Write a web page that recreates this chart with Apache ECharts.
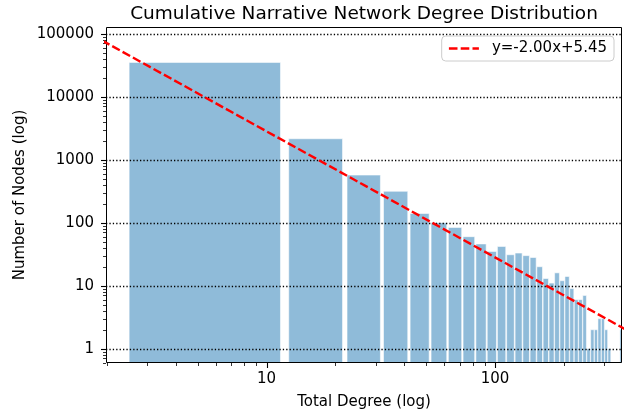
<!DOCTYPE html>
<html><head><meta charset="utf-8">
<script src="https://cdn.jsdelivr.net/npm/echarts@6/dist/echarts.min.js"></script>
<style>html,body{margin:0;padding:0;background:#fff}#c{width:626px;height:415px}</style>
</head><body><div id="c"></div>
<script>
// ---- data ----
const degreeBins = [7,17,27,37,47,57,67,77,87,97,107,117,127,137,147,157,167,177,187,197,207,217,227,237,247,257,267,277,287,297,307,317,327,337,347,357];
const nodeCounts = [35000,2150,570,315,140,100,84,60,46,35,42,31,33,30,28,20,13,11,16,12,14,9,6,6,7,1,2,2,3,3,2,1,0,0,0,2];
const fitSlope = -2.00;
const fitIntercept = 5.45;
const fitLabel = 'y=-2.00x+5.45';
const xMajorTicks = [10, 100];
const xMinorTicks = [2,3,4,5,6,7,8,9,20,30,40,50,60,70,80,90,200,300];
const yMajorTicks = [1,10,100,1000,10000,100000];
const yMinorTicks = [0.6,0.7,0.8,0.9,2,3,4,5,6,7,8,9,20,30,40,50,60,70,80,90,200,300,400,500,600,700,800,900,2000,3000,4000,5000,6000,7000,8000,9000,20000,30000,40000,50000,60000,70000,80000,90000];
const titleText = 'Cumulative Narrative Network Degree Distribution';
const xName = 'Total Degree (log)';
const yName = 'Number of Nodes (log)';

// ---- chart ----
const X_MIN = 1.98, X_MAX = 360, Y_MIN = 0.593, Y_MAX = 127700;
const BAR_HALF = 4.5;
const FONT = 'DejaVu Sans';

const barData = [];
degreeBins.forEach((d, i) => { if (nodeCounts[i] > 0) barData.push([d, nodeCounts[i]]); });

const fitX = [1.9, 400];
const fitData = fitX.map(x => [x, Math.pow(10, fitSlope * Math.log10(x) + fitIntercept)]);

const deco = [];
xMajorTicks.forEach(v => deco.push([v, 1, 0]));
xMinorTicks.forEach(v => deco.push([v, 1, 1]));
yMajorTicks.forEach(v => deco.push([10, v, 2]));
yMinorTicks.forEach(v => deco.push([10, v, 3]));
yMajorTicks.forEach(v => deco.push([10, v, 4]));
deco.push([10, 1, 5]);

const chart = echarts.init(document.getElementById('c'), null, {renderer: 'canvas'});
chart.setOption({
  animation: false,
  backgroundColor: '#fff',
  grid: {left: 106, right: 4, top: 27, bottom: 52, outerBoundsMode: 'none', containLabel: false},
  xAxis: {
    type: 'log', logBase: 10, min: X_MIN, max: X_MAX,
    axisLine: {show: false}, axisTick: {show: false}, splitLine: {show: false}, minorTick: {show: false},
    axisLabel: {show: true, showMinLabel: false, showMaxLabel: false, margin: 9, color: '#000', fontSize: 15, fontFamily: FONT,
      formatter: v => String(Math.round(v))}
  },
  yAxis: {
    type: 'log', logBase: 10, min: Y_MIN, max: Y_MAX,
    axisLine: {show: false}, axisTick: {show: false}, splitLine: {show: false}, minorTick: {show: false},
    axisLabel: {show: true, showMinLabel: false, showMaxLabel: false, margin: 12, color: '#000', fontSize: 15, fontFamily: FONT,
      formatter: v => String(Math.round(v))}
  },
  legend: {
    show: true, right: 12, top: 36, padding: [5, 7, 5, 6],
    itemWidth: 30, itemHeight: 14,
    itemStyle: {opacity: 0},
    lineStyle: {color: '#ff0000', width: 2.4, type: [8.6, 3.2], opacity: 1},
    borderColor: '#cccccc', borderWidth: 1, borderRadius: 4, backgroundColor: 'rgba(255,255,255,0.8)',
    textStyle: {fontSize: 15, fontFamily: FONT, color: '#000', padding: [0, 0, 0, 8]},
    data: [fitLabel]
  },
  graphic: [
    {type: 'text', x: 364, y: 14, z: 10, style: {text: titleText, fill: '#000', font: '18.5px "DejaVu Sans"', textAlign: 'center', textVerticalAlign: 'middle'}},
    {type: 'text', x: 364, y: 402, z: 10, style: {text: xName, fill: '#000', font: '15px "DejaVu Sans"', textAlign: 'center', textVerticalAlign: 'middle'}},
    {type: 'text', x: 20, y: 195, rotation: Math.PI / 2, z: 10, style: {text: yName, fill: '#000', font: '15px "DejaVu Sans"', textAlign: 'center', textVerticalAlign: 'middle'}}
  ],
  series: [
    {
      type: 'custom', name: 'bars', z: 2, clip: true,
      data: barData,
      encode: {x: 0, y: 1},
      renderItem: (params, api) => {
        const c = api.value(0), v = api.value(1);
        const p0 = api.coord([c - BAR_HALF, v]);
        const p1 = api.coord([c + BAR_HALF, Y_MIN]);
        return {type: 'rect', shape: {x: p0[0], y: p0[1], width: p1[0] - p0[0], height: p1[1] - p0[1]},
          style: {fill: 'rgba(31,119,180,0.5)', stroke: 'rgba(255,255,255,0.55)', lineWidth: 1}};
      }
    },
    {
      type: 'custom', name: 'deco', z: 3, clip: false, silent: true,
      data: deco,
      encode: {x: 0, y: 1},
      renderItem: (params, api) => {
        const cs = params.coordSys;
        const k = api.value(2);
        const bottom = cs.y + cs.height, left = cs.x;
        if (k === 0 || k === 1) {
          const px = Math.round(api.coord([api.value(0), 1])[0]) + 0.5;
          const len = k === 0 ? 5 : 3;
          return {type: 'line', shape: {x1: px, y1: bottom, x2: px, y2: bottom + len}, style: {stroke: '#000', lineWidth: k === 0 ? 1.1 : 0.8}};
        }
        if (k === 2 || k === 3) {
          const py = Math.round(api.coord([10, api.value(1)])[1]) + 0.5;
          const len = k === 2 ? 5 : 3;
          return {type: 'line', shape: {x1: left, y1: py, x2: left - len, y2: py}, style: {stroke: '#000', lineWidth: k === 2 ? 1.1 : 0.8}};
        }
        if (k === 4) {
          const py = Math.round(api.coord([10, api.value(1)])[1]) + 0.5;
          return {type: 'line', shape: {x1: left, y1: py, x2: left + cs.width, y2: py}, style: {stroke: '#000', lineWidth: 1.3, lineDash: [1.3, 2.1]}};
        }
        return {type: 'rect', shape: {x: left + 0.5, y: cs.y + 0.5, width: cs.width - 1, height: cs.height - 1}, style: {fill: null, stroke: '#000', lineWidth: 1}};
      }
    },
    {
      type: 'line', name: fitLabel, z: 4, clip: true,
      data: fitData, symbol: 'none', showSymbol: false,
      lineStyle: {color: '#ff0000', width: 2.4, type: [8.6, 3.2]},
      itemStyle: {color: '#ff0000'}
    }
  ]
});
</script></body></html>
